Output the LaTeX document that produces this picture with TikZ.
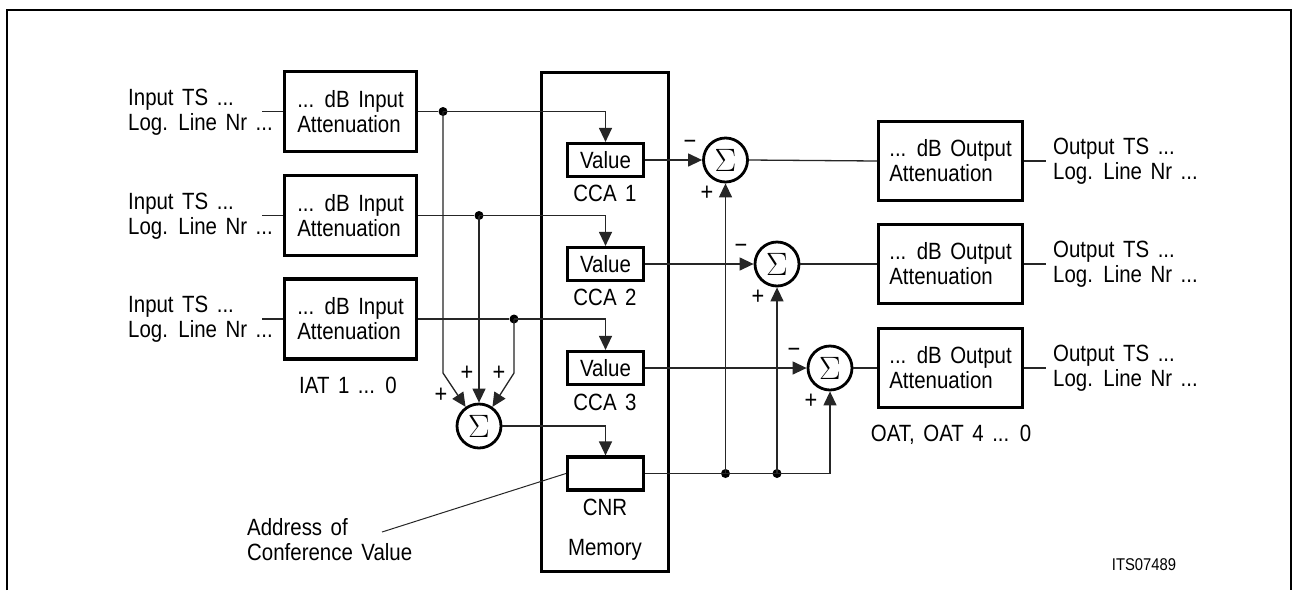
\documentclass[tikz,border=0pt]{standalone}
\usepackage{fontspec}
\setmainfont[FakeStretch=0.87,WordSpace=1.5]{Liberation Sans}
\usetikzlibrary{arrows.meta,calc}
\newcommand{\sumsym}{\scalebox{1.3}{$\Sigma$}}
\begin{document}
\begin{tikzpicture}[x=1pt,y=-1pt,
  every node/.style={font=\fontsize{23.5}{25}\selectfont, inner sep=0pt},
  blk/.style={draw, line width=3.2pt, inner sep=0pt},
  inbox/.style={blk, minimum width=132pt, minimum height=80pt, align=left},
  outbox/.style={blk, minimum width=144pt, minimum height=79pt, align=left},
  valbox/.style={blk, minimum width=76pt, minimum height=33pt},
  sumc/.style={circle, draw, line width=2.8pt, minimum size=44pt, inner sep=0pt},
  conn/.style={line width=1.3pt, draw=black!85},
  arr/.style={conn, -{Triangle[length=14pt,width=13pt]}},
  jdot/.style={circle, fill=black, minimum size=9pt, inner sep=0pt},
  lbl/.style={align=left, anchor=west},
  sign/.style={font=\fontsize{25}{25}\selectfont}
]
\useasboundingbox (0,0) rectangle (1297,590);
\fill[white] (0,0) rectangle (1297,590);
% frame
\draw[line width=2.5pt] (7,590) -- (7,10) -- (1291,10) -- (1291,590);

% memory
\node[blk, minimum width=127pt, minimum height=499pt] (mem) at (605,322) {};
\node (memlbl) at (605,550) {Memory};

% input boxes
\node[inbox] (in1) at (350.5,111.5) {... dB Input\\Attenuation};
\node[inbox] (in2) at (350.5,215.5) {... dB Input\\Attenuation};
\node[inbox] (in3) at (350.5,319) {... dB Input\\Attenuation};
\node (iat) at (348,385) {IAT 1 ... 0};

% input labels
\node[lbl] (il1) at (128,112) {Input TS ...\\Log. Line Nr ...};
\node[lbl] (il2) at (128,216) {Input TS ...\\Log. Line Nr ...};
\node[lbl] (il3) at (128,319) {Input TS ...\\Log. Line Nr ...};
\coordinate (ie1) at (262,111.5);
\coordinate (ie2) at (262,215.5);
\coordinate (ie3) at (262,319);
\draw[conn] (ie1) -- (in1.west);
\draw[conn] (ie2) -- (in2.west);
\draw[conn] (ie3) -- (in3.west);

% value boxes
\node[valbox] (v1) at (605.5,160) {Value};
\node[valbox] (v2) at (605.5,264) {Value};
\node[valbox] (v3) at (605.5,368) {Value};
\node[valbox] (cnr) at (605.5,473.5) {};
\node (c1) at (605,193) {CCA 1};
\node (c2) at (605,297) {CCA 2};
\node (c3) at (605,402) {CCA 3};
\node (cl) at (605,507) {CNR};

% sums
\node[sumc] (sin) at (479,426) {\sumsym};
\node[sumc] (s1) at (725.5,160) {\sumsym};
\node[sumc] (s2) at (777,264) {\sumsym};
\node[sumc] (s3) at (830,368) {\sumsym};

% output boxes
\node[outbox] (o1) at (950.5,161) {... dB Output\\Attenuation};
\node[outbox] (o2) at (950.5,264) {... dB Output\\Attenuation};
\node[outbox] (o3) at (950.5,368) {... dB Output\\Attenuation};
\node (oat) at (951,435) {OAT, OAT 4 ... 0};
\node[lbl] (ol1) at (1053,161) {Output TS ...\\Log. Line Nr ...};
\node[lbl] (ol2) at (1053,264) {Output TS ...\\Log. Line Nr ...};
\node[lbl] (ol3) at (1053,368) {Output TS ...\\Log. Line Nr ...};
\coordinate (oe1) at (1046,161);
\coordinate (oe2) at (1046,264);
\coordinate (oe3) at (1046,368);
\draw[conn] (o1.east) -- (oe1);
\draw[conn] (o2.east) -- (oe2);
\draw[conn] (o3.east) -- (oe3);

% input distribution
\node[jdot] (d1) at (443,111.5) {};
\node[jdot] (d2) at (479,215.5) {};
\node[jdot] (d3) at (514,319) {};
\draw[conn] (in1.east) -- (d1);
\draw[conn] (in2.east) -- (d2);
\draw[conn] (in3.east) -- (d3);
\draw[arr] (d1.center) -| (v1.north);
\draw[arr] (d2.center) -| (v2.north);
\draw[arr] (d3.center) -| (v3.north);
\coordinate (k1) at (443,373);
\coordinate (k3) at (514,373);
\draw[arr] (d1.center) -- (k1) -- (sin.125);
\draw[arr] (d2.center) -- (sin.north);
\draw[arr] (d3.center) -- (k3) -- (sin.55);
\node[sign] at (441,395) {+};
\node[sign] at (467,373) {+};
\node[sign] at (499,373) {+};

\draw[arr] (sin.east) -| (cnr.north);

% value to sums
\draw[arr] (v1.east) -- (s1.west);
\draw[arr] (v2.east) -- (s2.west);
\draw[arr] (v3.east) -- (s3.west);
\node[sign] at (690,145) {−};
\node[sign] at (741,249) {−};
\node[sign] at (794,353) {−};
\node[sign] at (707,193) {+};
\node[sign] at (758,297) {+};
\node[sign] at (811,401) {+};

% conference distribution
\node[jdot] (d4) at (725.5,473.5) {};
\node[jdot] (d5) at (777,473.5) {};
\draw[arr] (cnr.east) -| (s3.south);
\draw[arr] (d4.center) -- (s1.south);
\draw[arr] (d5.center) -- (s2.south);

% sums to outputs
\draw[conn] (s1.east) -- (o1.west);
\draw[conn] (s2.east) -- (o2.west);
\draw[conn] (s3.east) -- (o3.west);

% address label
\node[lbl] (addr) at (247,540) {Address of\\Conference Value};
\coordinate (ae) at (382,532);
\draw[conn, line width=1pt] (ae) -- (cnr.west);

\node (its) at (1144,565) {\fontsize{17}{17}\selectfont ITS07489};
\end{tikzpicture}
\end{document}
